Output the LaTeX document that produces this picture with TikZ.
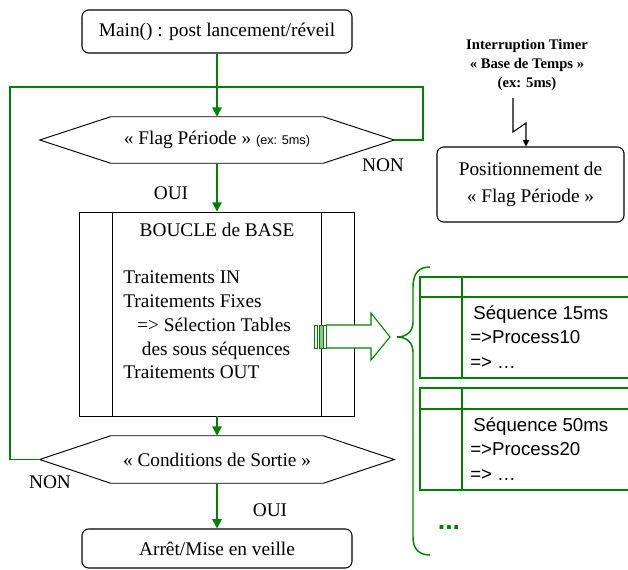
\documentclass[tikz,border=0pt]{standalone}
\usepackage{fontspec}
\setmainfont{Liberation Serif}
\newfontfamily\arialf{Liberation Sans}
\usetikzlibrary{arrows.meta,calc}
\definecolor{fgreen}{RGB}{0,128,0}
\begin{document}
\begin{tikzpicture}[x=0.75pt,y=-0.75pt,
  serif/.style={font=\fontsize{14.5}{17.8}\selectfont},
  rbox/.style={draw, rounded corners=5pt, line width=0.8pt, inner sep=0pt, serif, align=center},
  hexnode/.style={inner sep=0pt, serif},
  shapeline/.style={draw, line width=0.7pt},
  flow/.style={draw=fgreen, line width=1.3pt},
  flowarrow/.style={flow, -{Triangle[width=7pt,length=7pt]}},
  lbl/.style={inner sep=0pt, font=\fontsize{14.5}{16}\selectfont},
  gline/.style={draw=fgreen, line width=1.1pt},
  seqtext/.style={inner sep=0pt, anchor=west, align=left, font=\arialf\fontsize{14}{18.4}\selectfont},
]
\useasboundingbox (0,0) rectangle (628,570);

% main flow nodes
\node[rbox, minimum width=202.5pt, minimum height=32.25pt] (main) at (217,31.5) {Main() : post lancement/réveil};
\node[hexnode, minimum width=265.5pt, minimum height=34.5pt] (flag) at (217,140)
  {«~Flag Période~» {\arialf\fontsize{9.5}{11}\selectfont (ex: 5ms)}};
\draw[shapeline] (flag.west) -- ($(flag.north west)+(71,0)$) -- ($(flag.north east)+(-71,0)$) -- (flag.east)
  -- ($(flag.south east)+(-71,0)$) -- ($(flag.south west)+(71,0)$) -- cycle;

\node[draw, line width=0.6pt, minimum width=206.25pt, minimum height=153pt, inner sep=0pt] (boucle) at (216.5,314) {};
\draw[shapeline] ($(boucle.north west)+(34,0)$) -- ($(boucle.south west)+(34,0)$);
\draw[shapeline] ($(boucle.north east)+(-33,0)$) -- ($(boucle.south east)+(-33,0)$);
\node[serif, inner sep=0pt] (btitle) at (217,230) {BOUCLE de BASE};
\node[serif, inner sep=0pt, anchor=west, align=left] (bbody) at (123,325)
  {Traitements IN\\Traitements Fixes\\\hspace*{10.5pt}=> Sélection Tables\\\hspace*{14pt}des sous séquences\\Traitements OUT};

\node[hexnode, minimum width=265.5pt, minimum height=35.25pt] (cond) at (217,459.5) {«~Conditions de Sortie~»};
\draw[shapeline] (cond.west) -- ($(cond.north west)+(71,0)$) -- ($(cond.north east)+(-71,0)$) -- (cond.east)
  -- ($(cond.south east)+(-71,0)$) -- ($(cond.south west)+(71,0)$) -- cycle;

\node[rbox, minimum width=202.5pt, minimum height=29.25pt] (arret) at (217,548.5) {Arrêt/Mise en veille};

% connectors
\draw[flowarrow] (main.south) -- (main.south |- flag.north);
\draw[flowarrow] (flag.south) -- (flag.south |- boucle.north);
\draw[flowarrow] (boucle.south -| cond.north) -- (cond.north);
\draw[flowarrow] (cond.south) -- (arret.north);
\coordinate (lt) at (10,87);
\coordinate (rt) at (423,87);
\draw[flow] (flag.east) -| (rt) -- (lt) |- (cond.west);

\node[lbl] (non1) at (383,165) {NON};
\node[lbl] (oui1) at (171,193) {OUI};
\node[lbl] (non2) at (50,482) {NON};
\node[lbl] (oui2) at (270,510) {OUI};

% timer interrupt
\node[inner sep=0pt, align=center, font=\bfseries\fontsize{11}{14.3}\selectfont] (timer) at (527,65)
  {Interruption Timer\\«~Base de Temps~»\\(ex: 5ms)};
\node[rbox, minimum width=140.25pt, minimum height=56.25pt, font=\fontsize{14.5}{20}\selectfont] (pos) at (530.5,184.5)
  {Positionnement de\\«~Flag Période~»};
\coordinate (lz0) at (513,98);
\coordinate (lz1) at (526,123);
\draw[line width=0.8pt, -{Triangle[width=5pt,length=5pt]}] (lz0) -- (513,132) -- (lz1) -- (lz1 |- pos.north);

% block arrow
\draw[fgreen, line width=0.8pt, fill=white] (326,325) -- (371,325) -- (371,313) -- (390,337) -- (371,360) -- (371,348) -- (326,348) -- cycle;
\draw[fgreen, line width=0.7pt, fill=white] (314,325) rectangle (317,348);
\draw[fgreen, line width=0.7pt, fill=fgreen!45] (319,325) rectangle (323,348);
\draw[fgreen, line width=0.7pt, fill=white] (323,325) rectangle (326,348);

% brace
\draw[fgreen, line width=1.1pt] (430,267) .. controls (419,267) and (413,273) .. (413,287) -- (413,322)
  .. controls (413,332) and (406,337) .. (397,337) .. controls (406,337) and (413,342) .. (413,352)
  -- (413,537) .. controls (413,549) and (419,555) .. (430,555);

% tables
\draw[gline] (420,277) rectangle (640,378);
\draw[gline] (420,297) -- (640,297);
\draw[gline] (462,277) -- (462,378);
\node[seqtext] (seq1) at (470,337) {\,Séquence 15ms\\=>Process10\\=> …};

\draw[gline] (420,388) rectangle (640,490);
\draw[gline] (420,409) -- (640,409);
\draw[gline] (462,388) -- (462,490);
\node[seqtext] (seq2) at (470,449) {\,Séquence 50ms\\=>Process20\\=> …};

\node[inner sep=0pt, anchor=base, text=fgreen, font=\arialf\bfseries\fontsize{20}{20}\selectfont] (dots) at (449,529) {...};
\end{tikzpicture}
\end{document}
